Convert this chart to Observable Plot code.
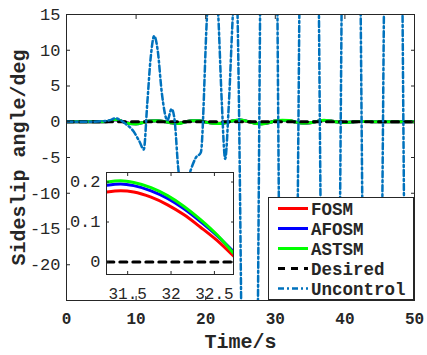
<!DOCTYPE html>
<html><head><meta charset="utf-8">
<script src="https://cdn.jsdelivr.net/npm/d3@7"></script>
<script src="https://cdn.jsdelivr.net/npm/@observablehq/plot@0.6"></script>
<style>
body{margin:0;background:#fff;}
#chart{position:relative;width:427px;height:355px;overflow:hidden;}
#chart > svg{position:absolute;}
</style></head><body><div id="chart"></div>
<script>
// ---- data ----
const tMain = [0,1,2,3,4,5,6,7,8,9,10,11,12,13,14,15,16,17,18,19,20,21,22,23,24,25,26,27,28,29,30,31,32,33,34,35,36,37,38,39,40,41,42,43,44,45,46,47,48,49,50];
const fosmMain  = [0,0,0,0,0,0,0.04,0.27,0.04,-0.22,-0.27,-0.09,0.09,0.13,0.04,-0.13,-0.22,-0.04,0.13,0.13,-0.04,-0.18,-0.22,-0.09,0.13,0.22,0.04,-0.18,-0.27,-0.13,0.09,0.17,0.14,-0.05,-0.18,-0.13,0.04,0.18,0.09,-0.04,-0.09,-0.04,0.04,0.04,0,0,0,0,0,0,0];
const afosmMain = [0,0,0,0,0,0,0.05,0.29,0.05,-0.24,-0.29,-0.1,0.1,0.14,0.05,-0.14,-0.24,-0.05,0.14,0.14,-0.05,-0.19,-0.24,-0.1,0.14,0.24,0.05,-0.19,-0.29,-0.14,0.1,0.19,0.15,-0.05,-0.19,-0.14,0.05,0.19,0.1,-0.05,-0.1,-0.05,0.05,0.05,0,0,0,0,0,0,0];
const astsmMain = [0,0,0,0,0,0,0.05,0.3,0.05,-0.25,-0.3,-0.1,0.1,0.15,0.05,-0.15,-0.25,-0.05,0.15,0.15,-0.05,-0.2,-0.25,-0.1,0.15,0.25,0.05,-0.2,-0.3,-0.15,0.1,0.2,0.16,-0.05,-0.2,-0.15,0.05,0.2,0.1,-0.05,-0.1,-0.05,0.05,0.05,0,0,0,0,0,0,0];
const desiredT = [0,50];
const desiredY = [0,0];
const uncT = [0,3,5.5,6.5,7.0,7.6,8.5,9.6,10.5,11.1,11.6,12.1,12.6,13.1,13.7,14.5,15.1,15.5,16.1,16.9,17.8,18.6,19.3,20.2,20.9,21.8,22.3,22.8,23.3,23.9,24.3,26.35,29.05,31.8,34.85,37.95,40.85,43.95,47.0,49.8,50];
const uncY = [0,0,0.1,0.3,0.5,0.3,-0.3,-1.3,-2.8,-3.9,2.5,9,12,10,4,0.2,1.8,0.5,-6.9,-10,-6.9,-5,-4.3,15,24,15,3,-5.2,2,15,22,-120,120,-120,120,-120,120,-120,120,-120,-110];

const tInset     = [31.26,31.42,31.57,31.77,31.96,32.15,32.34,32.53,32.72];
const fosmInset  = [0.175,0.178,0.175,0.162,0.143,0.118,0.087,0.054,0.015];
const afosmInset = [0.192,0.195,0.191,0.178,0.159,0.133,0.101,0.066,0.026];
const astsmInset = [0.200,0.203,0.199,0.186,0.166,0.139,0.106,0.068,0.022];
const desiredInsetT = [31.26,32.72];
const desiredInsetY = [0,0];

const xTicks = [0,10,20,30,40,50];
const yTicks = [-20,-15,-10,-5,0,5,10,15];
const insetXTicks = [31.5,32,32.5];
const insetYTicks = [0,0.1,0.2];
const insetXLabels = ["31.5","32","32.5"];
const insetYLabels = ["0","0.1","0.2"];

const seriesNames  = ["FOSM","AFOSM","ASTSM","Desired","Uncontrol"];
const seriesColors = ["#ff0000","#0000ff","#00ff00","#000000","#0072bd"];
const seriesDash   = [null,null,null,"7,6","6,3,2,3"];
const seriesWidth  = [3,3,3,3,2.5];

// ---- helpers ----
const rows = (xs, ys) => xs.map((x, i) => ({x, y: ys[i]}));
const AX = "#262626";
const MONO = "'Courier New', 'Liberation Mono', Courier, monospace";

function lineMark(xs, ys, i, extra = {}) {
  return Plot.line(rows(xs, ys), {
    x: "x", y: "y", stroke: seriesColors[i], strokeWidth: seriesWidth[i],
    strokeDasharray: seriesDash[i] || undefined, curve: "monotone-x", clip: true, ...extra
  });
}
function boxTicks(xt, yt, size) {
  return [
    Plot.axisX({ticks: xt, anchor: "bottom", tickSize: size, dy: -size, tickFormat: () => "", label: null, stroke: AX}),
    Plot.axisX({ticks: xt, anchor: "top", tickSize: size, dy: size, tickFormat: () => "", label: null, stroke: AX}),
    Plot.axisY({ticks: yt, anchor: "left", tickSize: size, dx: size, tickFormat: () => "", label: null, stroke: AX}),
    Plot.axisY({ticks: yt, anchor: "right", tickSize: size, dx: -size, tickFormat: () => "", label: null, stroke: AX})
  ];
}

// ---- main chart ----
const main = Plot.plot({
  width: 427, height: 355,
  marginLeft: 66, marginRight: 13, marginTop: 14, marginBottom: 55,
  style: {background: "white", overflow: "visible"},
  x: {domain: [0, 50]},
  y: {domain: [-25, 15]},
  marks: [
    lineMark(tMain, fosmMain, 0),
    lineMark(tMain, afosmMain, 1),
    lineMark(tMain, astsmMain, 2),
    lineMark(desiredT, desiredY, 3, {curve: "linear"}),
    lineMark(uncT, uncY, 4),
    Plot.frame({stroke: AX, strokeWidth: 1}),
    ...boxTicks(xTicks, yTicks, 4),
    Plot.axisX({ticks: xTicks, anchor: "bottom", tickSize: 0, tickPadding: 12, label: null,
      fontFamily: MONO, fontSize: 16, fontWeight: "bold", color: AX}),
    Plot.axisY({ticks: yTicks, anchor: "left", tickSize: 0, tickPadding: 6, label: null,
      fontFamily: MONO, fontSize: 17, color: AX, tickFormat: d => d < 0 ? "-" + Math.abs(d) : String(d)}),
    Plot.text(["Sideslip angle/deg"], {text: d => d, frameAnchor: "left", rotate: -90, dx: -48,
      fontFamily: MONO, fontSize: 20, fontWeight: "bold", fill: AX, textAnchor: "middle", lineAnchor: "middle"}),
    Plot.text(["Time/s"], {text: d => d, frameAnchor: "bottom", dy: 41,
      fontFamily: MONO, fontSize: 20, fontWeight: "bold", fill: AX, textAnchor: "middle", lineAnchor: "middle"})
  ]
});
main.style.left = "0px"; main.style.top = "0px";
document.getElementById("chart").appendChild(main);

// ---- inset chart ----
const inset = Plot.plot({
  width: 178, height: 140,
  marginLeft: 46, marginRight: 5, marginTop: 7, marginBottom: 31,
  style: {background: "transparent", overflow: "visible"},
  x: {domain: [31.256, 32.72]},
  y: {domain: [-0.03125, 0.2238]},
  marks: [
    Plot.frame({fill: "white", stroke: null}),
    lineMark(tInset, fosmInset, 0),
    lineMark(tInset, afosmInset, 1),
    lineMark(tInset, astsmInset, 2),
    lineMark(desiredInsetT, desiredInsetY, 3, {curve: "linear"}),
    Plot.frame({stroke: AX, strokeWidth: 1}),
    ...boxTicks(insetXTicks, insetYTicks, 3),
    Plot.axisX({ticks: insetXTicks, anchor: "bottom", tickSize: 0, tickPadding: 13, label: null,
      tickFormat: d => insetXLabels[insetXTicks.indexOf(d)],
      fontFamily: MONO, fontSize: 16, color: AX}),
    Plot.axisY({ticks: insetYTicks, anchor: "left", tickSize: 0, tickPadding: 6, label: null,
      tickFormat: d => insetYLabels[insetYTicks.indexOf(d)],
      fontFamily: MONO, fontSize: 17, color: AX})
  ]
});
inset.style.left = "60px"; inset.style.top = "165px";
document.getElementById("chart").appendChild(inset);

// ---- legend ----
const lg = d3.select("#chart").append("svg")
  .attr("width", 146).attr("height", 103)
  .style("left", "268px").style("top", "197px");
lg.append("rect").attr("x", 0.5).attr("y", 0.5).attr("width", 145).attr("height", 102)
  .attr("fill", "white").attr("stroke", AX).attr("stroke-width", 1);
seriesNames.forEach((name, i) => {
  const cy = 11.5 + i * 20;
  lg.append("line").attr("x1", 10).attr("x2", 40).attr("y1", cy).attr("y2", cy)
    .attr("stroke", seriesColors[i]).attr("stroke-width", seriesWidth[i])
    .attr("stroke-dasharray", seriesDash[i]);
  lg.append("text").attr("x", 43).attr("y", cy).attr("dy", "0.35em")
    .style("font-family", MONO).attr("font-weight", "bold").attr("font-size", 17.5)
    .attr("fill", AX).text(name);
});
</script></body></html>
